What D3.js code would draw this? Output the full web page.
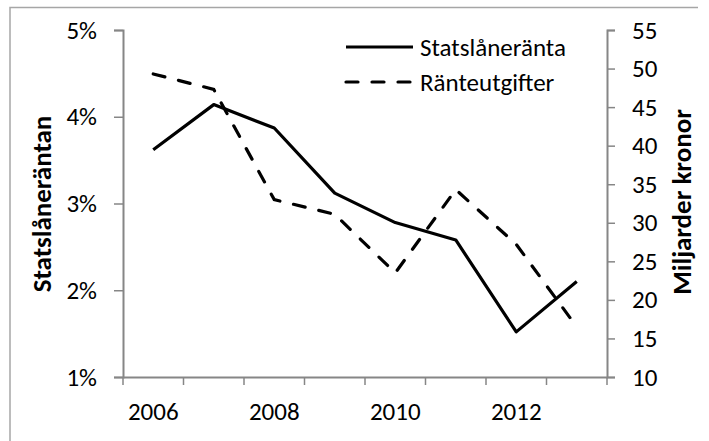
<!DOCTYPE html>
<html>
    <head>
        <meta charset="utf-8">
        <title>Statslåneränta och ränteutgifter</title>
        <style>
            body { margin: 0; background: #fff; }
            text { font-family: Carlito, Calibri, Lato, sans-serif; fill: #000; }
        </style>
    </head>
    <body>

        <script type="text/javascript" src="https://d3js.org/d3.v7.min.js"></script>
        <script type="text/javascript">
            var years = [2006, 2007, 2008, 2009, 2010, 2011, 2012, 2013];
            var yearLabels = [2006, 2008, 2010, 2012];
            var statslaneranta = [0.0362, 0.0414, 0.0387, 0.0312, 0.0278, 0.0258, 0.0152, 0.0210];
            var ranteutgifter = [49.3, 47.3, 33.0, 31.1, 23.5, 34.3, 27.2, 16.5];
            var leftTicks = [0.01, 0.02, 0.03, 0.04, 0.05];
            var rightTicks = [10, 15, 20, 25, 30, 35, 40, 45, 50, 55];

            var width = 709, height = 441;
            var plotLeft = 123, plotRight = 607, plotTop = 30, plotBottom = 377;
            var axisColor = '#868686';
            var fontSize = 25;

            var svg = d3.select('body')
                .append('svg')
                .attr('width', width)
                .attr('height', height);

            // outer frame (only top and left edges show)
            svg.append('path')
                .attr('d', 'M10,441V7.5H698')
                .attr('fill', 'none')
                .attr('stroke', '#a6a6a6')
                .attr('stroke-width', 1.5);

            var x = d3.scaleBand()
                .domain(years)
                .range([plotLeft, plotRight])
                .padding(0);

            var yLeft = d3.scaleLinear()
                .domain([0.01, 0.05])
                .range([plotBottom, plotTop]);

            var yRight = d3.scaleLinear()
                .domain([10, 55])
                .range([plotBottom, plotTop]);

            function styleAxis(g) {
                g.selectAll('.domain').attr('stroke', axisColor).attr('stroke-width', 2);
                g.selectAll('.tick line').attr('stroke', axisColor).attr('stroke-width', 1.5);
                g.selectAll('.tick text').attr('font-size', fontSize).attr('fill', '#000');
            }

            var leftAxis = d3.axisLeft(yLeft)
                .tickValues(leftTicks)
                .tickFormat(d3.format('.0%'))
                .tickSizeOuter(0)
                .tickSize(9)
                .tickPadding(17);

            svg.append('g')
                .attr('transform', 'translate(' + plotLeft + ',0)')
                .call(leftAxis)
                .call(styleAxis);

            var rightAxis = d3.axisRight(yRight)
                .tickValues(rightTicks)
                .tickSizeOuter(0)
                .tickSize(8)
                .tickPadding(17);

            svg.append('g')
                .attr('transform', 'translate(' + plotRight + ',0)')
                .call(rightAxis)
                .call(styleAxis);

            // x axis: labels centred on bands, tick marks on band edges
            var xAxis = d3.axisBottom(x)
                .tickValues(yearLabels)
                .tickSize(0)
                .tickSizeOuter(0)
                .tickPadding(25);

            var gx = svg.append('g')
                .attr('transform', 'translate(0,' + plotBottom + ')')
                .call(xAxis)
                .call(styleAxis);

            gx.selectAll('.edge')
                .data(years.map(function(d){ return x(d); }).concat([x(years[years.length - 1]) + x.bandwidth()]))
                .enter()
                .append('line')
                .attr('class', 'edge')
                .attr('x1', function(d){ return d; })
                .attr('x2', function(d){ return d; })
                .attr('y1', 0)
                .attr('y2', 8)
                .attr('stroke', axisColor)
                .attr('stroke-width', 1.5);

            var cx = function(d, i){ return x(years[i]) + x.bandwidth() / 2; };

            var lineLeft = d3.line()
                .x(cx)
                .y(function(d){ return yLeft(d); });

            var lineRight = d3.line()
                .x(cx)
                .y(function(d){ return yRight(d); });

            svg.append('path')
                .datum(ranteutgifter)
                .attr('d', lineRight)
                .attr('fill', 'none')
                .attr('stroke', '#000')
                .attr('stroke-width', 3.2)
                .attr('stroke-linecap', 'round')
                .attr('stroke-dasharray', '12,14');

            svg.append('path')
                .datum(statslaneranta)
                .attr('d', lineLeft)
                .attr('fill', 'none')
                .attr('stroke', '#000')
                .attr('stroke-width', 3.2)
                .attr('stroke-linejoin', 'round');

            // legend
            var legend = svg.append('g');
            var legendItems = [
                {name: 'Statslåneränta', dash: null, y: 47},
                {name: 'Ränteutgifter', dash: '12,14', y: 82}
            ];
            legendItems.forEach(function(item){
                legend.append('line')
                    .attr('x1', 346).attr('x2', 413)
                    .attr('y1', item.y).attr('y2', item.y)
                    .attr('stroke', '#000')
                    .attr('stroke-width', 3.2)
                    .attr('stroke-linecap', item.dash ? 'round' : 'butt')
                    .attr('stroke-dasharray', item.dash);
                legend.append('text')
                    .attr('x', 420)
                    .attr('y', item.y)
                    .attr('dy', '0.35em')
                    .attr('font-size', fontSize)
                    .text(item.name);
            });

            // axis titles
            svg.append('text')
                .attr('transform', 'translate(51,204) rotate(-90)')
                .attr('text-anchor', 'middle')
                .attr('font-size', 27)
                .attr('font-weight', 'bold')
                .text('Statslåneräntan');

            svg.append('text')
                .attr('transform', 'translate(691,202) rotate(-90)')
                .attr('text-anchor', 'middle')
                .attr('font-size', 27)
                .attr('font-weight', 'bold')
                .text('Miljarder kronor');
        </script>

    </body>
</html>
